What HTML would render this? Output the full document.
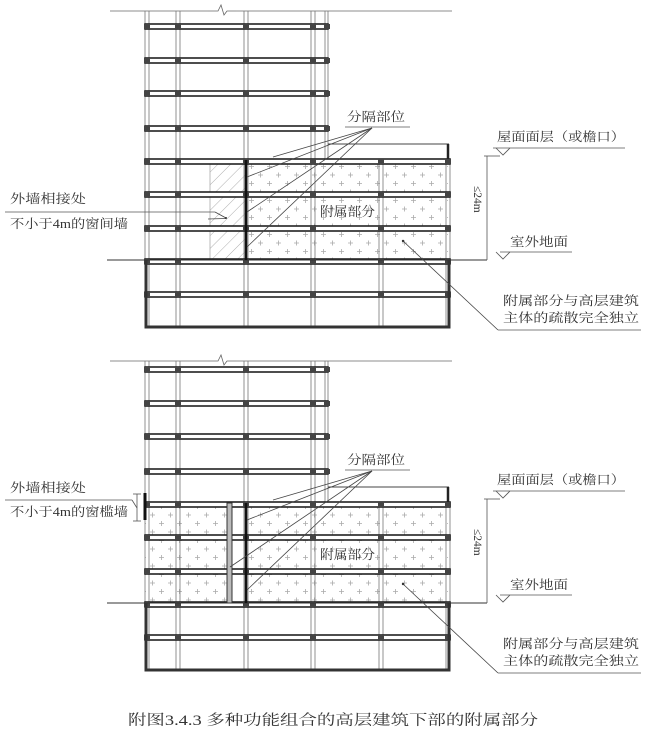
<!DOCTYPE html>
<html><head><meta charset="utf-8"><style>
html,body{margin:0;padding:0;background:#fff;}
svg text{font-family:"Liberation Serif","Noto Serif CJK SC",serif;fill:#333;}
</style></head><body>
<svg id="s" width="653" height="745" viewBox="0 0 653 745" xmlns="http://www.w3.org/2000/svg">
<defs>
<pattern id="plus" width="18" height="17" patternUnits="userSpaceOnUse">
<path d="M6 5h5M8.5 2.5v5" stroke="#aaa" stroke-width="0.8"/>
<path d="M15 13.5h5M17.5 11v5M-3 13.5h5M-0.5 11v5" stroke="#aaa" stroke-width="0.8"/>
</pattern>
<pattern id="hatch" width="9" height="9" patternUnits="userSpaceOnUse" patternTransform="rotate(45)">
<line x1="0" y1="0" x2="0" y2="9" stroke="#999" stroke-width="0.8"/>
</pattern>
</defs>
<g id="g"></g>
<text x="128" y="725" font-size="14.5" textLength="410" lengthAdjust="spacingAndGlyphs">附图3.4.3 多种功能组合的高层建筑下部的附属部分</text>
</svg>
<script>
var g=document.getElementById('g'),h='';
function L(x1,y1,x2,y2,w,c){h+='<line x1="'+x1+'" y1="'+y1+'" x2="'+x2+'" y2="'+y2+'" stroke="'+(c||'#333')+'" stroke-width="'+(w||1)+'"/>';}
function R(x,y,w,hh,f,s,sw){h+='<rect x="'+x+'" y="'+y+'" width="'+w+'" height="'+hh+'" fill="'+f+'" stroke="'+(s||'none')+'" stroke-width="'+(sw||1)+'"/>';}
function T(x,y,t,fs,tl){h+='<text x="'+x+'" y="'+y+'" font-size="'+(fs||12.5)+'"'+(tl?' textLength="'+tl+'" lengthAdjust="spacingAndGlyphs"':'')+'>'+t+'</text>';}
function draw(o,cut,v){
  var tcols=[147,178,246,313],pcols=[381,448];
  if(v==0){R(246,160+o,202,100,'url(#plus)');R(210,160+o,36,100,'url(#hatch)');L(210,160+o,210,260+o,0.8,'#aaa');}
  else{R(145,160+o,82,100,'url(#plus)');R(246,160+o,202,100,'url(#plus)');}
  L(110,cut,208,cut,0.8,'#666');L(236,cut,452,cut,0.8,'#666');
  h+='<path d="M208 '+cut+' l10 0 l3 -6 l3 10 l3 -4 l9 0" fill="none" stroke="#666" stroke-width="0.8"/>';
  tcols.forEach(function(x){L(x-2,cut,x-2,327+o,0.8,'#777');L(x+2,cut,x+2,327+o,0.8,'#777');});
  L(325,cut,325,160+o,0.8,'#777');L(328,cut,328,160+o,0.8,'#777');
  pcols.forEach(function(x){L(x-2,160+o,x-2,327+o,0.8,'#777');L(x+2,160+o,x+2,327+o,0.8,'#777');});
  [25,59,92,127].forEach(function(y){R(145,y+o-1,183,5,'#fff','#222',1.6);
    tcols.concat([327]).forEach(function(x){R(x-3,y+o-1,6,5,'#444');});});
  [160,193,227,260,293].forEach(function(y){R(145,y+o-1,305,5,'#fff','#222',1.6);
    tcols.concat(pcols).forEach(function(x){R(x-3,y+o-1,6,5,'#444');});});
  h+='<path d="M146 '+(260+o)+' V'+(327+o)+' H449 V'+(260+o)+'" fill="none" stroke="#333" stroke-width="3"/>';
  L(328,144+o,449,144+o,1,'#444');L(448,144+o,448,159+o,2.5,'#222');
  L(107,260+o,487,260+o,1,'#333');
  L(246,160+o,246,260+o,2.6,'#111');
  if(v==1){R(227,160+o,5,100,'#bbb','#333',1);L(145,150+o,145,177+o,3,'#111');}
  T(347,121+o,'分隔部位',12.5,58);L(345,127+o,410,127+o,0.8,'#555');
  [[273,157],[247,177],[247,212],[247,247]].forEach(function(p){
    var px=p[0],py=p[1];if(v==1&&px==247&&py==212){px=230;py=224;}
    L(372,128+o,px,py+o,0.8,'#444');});
  T(320,216+o,'附属部分',13,55);
  T(497,141+o,'屋面面层（或檐口）',12.5,128);L(493,148+o,625,148+o,0.8,'#555');
  h+='<path d="M496 '+(148+o)+' l7 7 l7 -7" fill="none" stroke="#555" stroke-width="0.8"/>';
  L(487,156+o,487,260+o,0.8,'#555');L(484,156+o,500,156+o,0.8,'#555');
  h+='<g transform="translate(474,'+(186+o)+') rotate(90)"><text x="0" y="0" font-size="11.5">≤24m</text></g>';
  T(510,246+o,'室外地面',12.5,58);L(500,252+o,572,252+o,0.8,'#555');
  h+='<path d="M496 '+(252+o)+' l7 7 l7 -7" fill="none" stroke="#555" stroke-width="0.8"/>';
  T(503,305+o,'附属部分与高层建筑',12.5,136);T(503,322+o,'主体的疏散完全独立',12.5,136);
  L(403,241+o,498,330+o,0.8,'#444');L(498,330+o,641,330+o,0.8,'#555');
  h+='<circle cx="403" cy="'+(241+o)+'" r="1.2" fill="#333"/>';
  if(v==0){T(10,203,'外墙相接处',12.5,76);T(10,228,'不小于4m的窗间墙',12.5,118);L(5,212,215,212,0.8,'#555');
    h+='<path d="M208 219 l18 -0.5 M215 212 l11 6" fill="none" stroke="#444" stroke-width="0.8"/><circle cx="226" cy="218" r="1" fill="#333"/>';}
  else{T(10,492,'外墙相接处',12.5,76);T(10,516,'不小于4m的窗槛墙',12.5,118);L(5,500,132,500,0.8,'#555');
    L(137,494,137,521,0.8,'#555');L(133,494,141,494,0.8,'#555');L(133,521,141,521,0.8,'#555');
    L(132,500,137,508,0.8,'#555');}
}
draw(0,11,0);draw(343,361,1);
g.innerHTML=h;
</script>
</body></html>
